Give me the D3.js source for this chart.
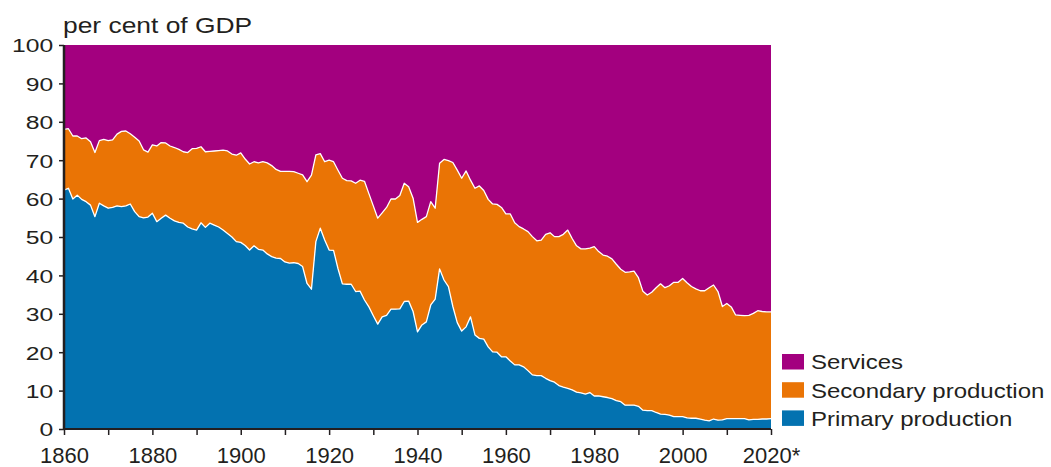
<!DOCTYPE html>
<html>
<head>
<meta charset="utf-8">
<script src="https://cdn.jsdelivr.net/npm/d3@7"></script>
<style>
  html, body { margin: 0; padding: 0; background: #fff; }
  svg { display: block; font-family: "Liberation Sans", Arial, sans-serif; }
</style>
</head>
<body>
<div id="chart"></div>
<script>
// shares of GDP by sector, per cent, one value per year 1860–2020
const years = d3.range(1860, 2021);

const primary = [
  62.2, 62.7, 59.9, 60.9, 59.8, 59.2, 58.3, 55.3, 58.8, 58.1, // 1860s
  57.5, 57.7, 58.1, 57.9, 58.1, 58.6, 56.6, 55.3, 55.0, 55.2, // 1870s
  56.2, 54.0, 54.9, 55.7, 54.9, 54.2, 53.8, 53.6, 52.6, 52.1, // 1880s
  51.8, 53.7, 52.5, 53.6, 53.1, 52.6, 51.8, 50.9, 50.0, 48.8, // 1890s
  48.6, 47.8, 46.6, 47.7, 46.8, 46.6, 45.6, 44.9, 44.5, 44.4, // 1900s
  43.5, 43.2, 43.3, 43.1, 42.3, 37.9, 36.4, 48.8, 52.3, 49.2, // 1910s
  46.6, 46.5, 41.8, 37.8, 37.7, 37.7, 35.8, 35.9, 33.6, 31.8, // 1920s
  29.5, 27.3, 29.2, 29.6, 31.2, 31.2, 31.3, 33.2, 33.3, 30.6, // 1930s
  25.3, 27.1, 27.9, 32.3, 33.8, 41.7, 38.8, 37.1, 31.9, 27.7, // 1940s
  25.5, 26.6, 29.2, 24.5, 23.6, 23.4, 21.4, 20.1, 20.0, 18.8, // 1950s
  18.8, 17.7, 16.7, 16.7, 16.2, 15.2, 14.1, 13.9, 13.9, 13.2, // 1960s
  12.6, 12.2, 11.3, 10.9, 10.6, 10.2, 9.6, 9.4, 9.1, 9.5,     // 1970s
  8.6, 8.6, 8.4, 8.2, 7.9, 7.4, 7.1, 6.2, 6.2, 6.2,           // 1980s
  5.9, 4.9, 4.8, 4.8, 4.3, 3.9, 3.8, 3.6, 3.2, 3.2,           // 1990s
  3.2, 2.9, 2.8, 2.8, 2.6, 2.3, 2.1, 2.6, 2.3, 2.4,           // 2000s
  2.7, 2.7, 2.7, 2.7, 2.7, 2.4, 2.5, 2.5, 2.6, 2.6,           // 2010s
  2.7                                                         // 2020
];

const secondary = [
  15.8, 15.5, 16.4, 15.4, 15.8, 16.6, 16.5, 16.7, 16.3, 17.3,
  17.6, 17.6, 18.7, 19.6, 19.5, 18.3, 19.4, 19.7, 17.7, 16.9,
  17.8, 19.7, 19.7, 18.8, 18.8, 19.1, 19.0, 18.6, 19.4, 20.9,
  21.3, 19.8, 19.7, 18.7, 19.3, 19.9, 20.8, 21.5, 21.6, 22.5,
  23.3, 22.5, 22.4, 21.9, 22.5, 23.0, 23.7, 23.7, 23.1, 22.7,
  23.6, 23.9, 23.7, 23.5, 23.9, 26.5, 29.7, 22.6, 19.4, 20.4,
  23.4, 23.1, 25.6, 27.5, 27.0, 26.9, 28.2, 28.9, 30.9, 29.5,
  28.6, 27.6, 27.1, 28.1, 28.7, 28.7, 29.5, 30.8, 29.8, 29.5,
  28.5, 27.5, 27.4, 26.9, 23.7, 27.5, 31.4, 32.8, 37.5, 39.7,
  39.8, 40.6, 35.6, 38.2, 39.7, 38.7, 38.4, 38.5, 38.5, 38.9,
  37.2, 38.3, 37.0, 36.0, 35.9, 36.2, 36.0, 35.1, 35.3, 37.5,
  38.5, 37.9, 38.8, 39.8, 41.2, 39.4, 38.1, 37.5, 37.8, 37.6,
  38.9, 37.6, 36.9, 36.8, 36.4, 35.5, 34.5, 34.6, 34.7, 34.9,
  33.5, 31.0, 30.1, 30.8, 32.5, 33.9, 33.0, 33.7, 35.0, 35.0,
  36.0, 35.2, 34.3, 33.7, 33.4, 33.7, 34.7, 34.9, 33.5, 29.5,
  30.0, 29.1, 27.0, 26.9, 26.8, 27.2, 27.6, 28.3, 28.0, 27.9,
  27.8
];

const services = [
  22.0, 21.8, 23.7, 23.7, 24.4, 24.2, 25.2, 28.0, 24.9, 24.6,
  24.9, 24.7, 23.2, 22.5, 22.4, 23.1, 24.0, 25.0, 27.3, 27.9,
  26.0, 26.3, 25.4, 25.5, 26.3, 26.7, 27.2, 27.8, 28.0, 27.0,
  26.9, 26.5, 27.8, 27.7, 27.6, 27.5, 27.4, 27.6, 28.4, 28.7,
  28.1, 29.7, 31.0, 30.4, 30.7, 30.4, 30.7, 31.4, 32.4, 32.9,
  32.9, 32.9, 33.0, 33.4, 33.8, 35.6, 33.9, 28.6, 28.3, 30.4,
  30.0, 30.4, 32.6, 34.7, 35.3, 35.4, 36.0, 35.2, 35.5, 38.7,
  41.9, 45.1, 43.7, 42.3, 40.1, 40.1, 39.2, 36.0, 36.9, 39.9,
  46.2, 45.4, 44.7, 40.8, 42.5, 30.8, 29.8, 30.1, 30.6, 32.6,
  34.7, 32.8, 35.2, 37.3, 36.7, 37.9, 40.2, 41.4, 41.5, 42.3,
  44.0, 44.0, 46.3, 47.3, 47.9, 48.6, 49.9, 51.0, 50.8, 49.3,
  48.9, 49.9, 49.9, 49.3, 48.2, 50.4, 52.3, 53.1, 53.1, 52.9,
  52.5, 53.8, 54.7, 55.0, 55.7, 57.1, 58.4, 59.2, 59.1, 58.9,
  60.6, 64.1, 65.1, 64.4, 63.2, 62.2, 63.2, 62.7, 61.8, 61.8,
  60.8, 61.9, 62.9, 63.5, 64.0, 64.0, 63.2, 62.5, 64.2, 68.1,
  67.3, 68.2, 70.3, 70.4, 70.5, 70.4, 69.9, 69.2, 69.4, 69.5,
  69.5
];

const seriesKeys   = ['primary', 'secondary', 'services'];
const seriesLabels = ['Primary production', 'Secondary production', 'Services'];
const yTicks       = [0, 10, 20, 30, 40, 50, 60, 70, 80, 90, 100];
const xTicks       = d3.range(1860, 2021, 10);
const xLabelYears  = d3.range(1860, 2021, 20);
const unitLabel    = 'per cent of GDP';

const COLORS = { primary: '#0372b0', secondary: '#ea7405', services: '#a3007f' };

const W = 1051, H = 467;
const margin = { top: 45, right: 280, bottom: 38, left: 64 };
const innerW = W - margin.left - margin.right;
const innerH = H - margin.top - margin.bottom;

const rows = years.map((yr, i) => ({
  year: yr, primary: primary[i], secondary: secondary[i], services: services[i]
}));

const x = d3.scaleLinear([1860, 2020], [0, innerW]);
const y = d3.scaleLinear([0, 100], [innerH, 0]).clamp(true);

const stacked = d3.stack().keys(seriesKeys)(rows);

const svg = d3.select('#chart').append('svg')
  .attr('width', W).attr('height', H);

const g = svg.append('g').attr('transform', `translate(${margin.left},${margin.top})`);

const area = d3.area()
  .x(d => x(d.data.year))
  .y0(d => y(d[0]))
  .y1(d => y(d[1]));

g.selectAll('path.layer')
  .data(stacked)
  .join('path')
  .attr('class', 'layer')
  .attr('fill', d => COLORS[d.key])
  .attr('d', area);

// thin white separators on the upper edge of the lower two layers
const edge = d3.line().x(d => x(d.data.year)).y(d => y(d[1]));
g.selectAll('path.edge')
  .data(stacked.slice(0, 2))
  .join('path')
  .attr('class', 'edge')
  .attr('fill', 'none')
  .attr('stroke', '#fff')
  .attr('stroke-width', 1.3)
  .attr('stroke-linejoin', 'round')
  .attr('d', edge);

// y axis
const yAxis = g.append('g')
  .call(d3.axisLeft(y).tickValues(yTicks).tickSize(5).tickPadding(3));
yAxis.select('.domain').attr('stroke', '#231f20').attr('stroke-width', 2.5)
  .attr('d', `M0,${innerH + 1}V0`);
yAxis.selectAll('.tick line').attr('stroke', '#231f20').attr('stroke-width', 1.5);
yAxis.selectAll('.tick text')
  .attr('font-size', 19).attr('fill', '#231f20')
  .attr('font-family', '"Liberation Sans", Arial, sans-serif')
  .attr('x', -8.3).attr('dy', '0.36em')
  .attr('transform', 'scale(1.3,1)');

// x axis
const xAxis = g.append('g')
  .attr('transform', `translate(0,${innerH})`)
  .call(d3.axisBottom(x).tickValues(xTicks).tickSize(6).tickPadding(12)
    .tickFormat(d => xLabelYears.includes(d) ? (d === 2020 ? '2020*' : String(d)) : ''));
xAxis.select('.domain').attr('stroke', '#231f20').attr('stroke-width', 2)
  .attr('d', `M-1,0H${innerW}`);
xAxis.selectAll('.tick line').attr('stroke', '#231f20').attr('stroke-width', 1.5);
xAxis.selectAll('.tick text')
  .attr('font-size', 22).attr('fill', '#231f20')
  .attr('font-family', '"Liberation Sans", Arial, sans-serif');

// unit label above the plot
svg.append('text')
  .attr('transform', 'translate(63,33) scale(1.2,1)')
  .attr('font-size', 22).attr('fill', '#231f20')
  .text(unitLabel);

// legend, services on top
const legendOrder = [2, 1, 0];
const legend = svg.append('g').attr('transform', 'translate(782,354)');
legendOrder.forEach((k, i) => {
  const row = legend.append('g').attr('transform', `translate(0,${i * 28.2})`);
  row.append('rect')
    .attr('x', 0).attr('y', 0).attr('width', 22).attr('height', 15.5)
    .attr('fill', COLORS[seriesKeys[k]]);
  row.append('text')
    .attr('transform', 'translate(29,15.3) scale(1.2,1)')
    .attr('font-size', 20).attr('fill', '#231f20')
    .text(seriesLabels[k]);
});
</script>
</body>
</html>
